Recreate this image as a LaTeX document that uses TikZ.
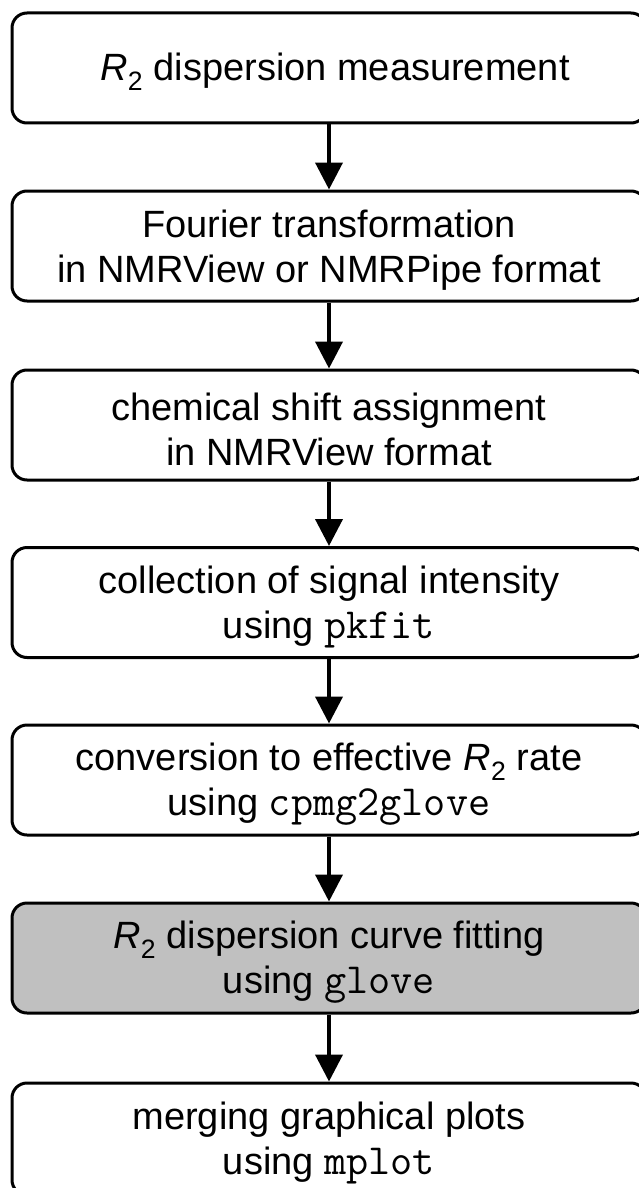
\documentclass[tikz,border=0pt]{standalone}
\usepackage{fontspec}
\setmainfont{Liberation Sans}
\usetikzlibrary{arrows.meta}
\definecolor{boxgray}{RGB}{192,192,192}
\newcommand\Rtwo{\textit{R}\textsubscript{2}}
\newcommand\code[1]{{\fontsize{43}{45}\selectfont\ttfamily #1}}
\begin{document}
\begin{tikzpicture}[x=1pt,y=-1pt,
  box/.style={draw, line width=3pt, rounded corners=15pt, minimum width=634pt,
    minimum height=110pt, inner sep=0pt},
  txt/.style={align=center, inner sep=0pt, font=\fontsize{38}{45}\selectfont},
  flow/.style={line width=4pt, -{Triangle[width=27pt,length=27pt]}}]
\useasboundingbox (0,0) rectangle (639,1188);
\clip (0,0) rectangle (639,1188);
\node[box] (b1) at (329,68) {};
\node[box] (b2) at (329,246) {};
\node[box] (b3) at (329,425) {};
\node[box] (b4) at (329,602.5) {};
\node[box] (b5) at (329,780) {};
\node[box, fill=boxgray] (b6) at (329,958) {};
\node[box, minimum height=112pt] (b7) at (329,1139) {};
\node[txt] (t1) at ([xshift=6pt,yshift=-4pt]b1.center) {\Rtwo{} dispersion measurement};
\node[txt] (t2) at ([yshift=-4pt]b2.center) {Fourier transformation\\in NMRView or NMRPipe format};
\node[txt] (t3) at ([yshift=-4pt]b3.center) {chemical shift assignment\\in NMRView format};
\node[txt] (t4) at ([yshift=-4pt]b4.center) {collection of signal intensity\\using \code{pkfit}};
\node[txt] (t5) at ([yshift=-4pt]b5.center) {conversion to effective \Rtwo{} rate\\using \code{cpmg2glove}};
\node[txt] (t6) at ([yshift=-4pt]b6.center) {\Rtwo{} dispersion curve fitting\\using \code{glove}};
\node[txt] (t7) at ([yshift=-4pt]b7.center) {merging graphical plots\\using \code{mplot}};
\draw[flow] (b1) -- (b2);
\draw[flow] (b2) -- (b3);
\draw[flow] (b3) -- (b4);
\draw[flow] (b4) -- (b5);
\draw[flow] (b5) -- (b6);
\draw[flow] (b6) -- (b7);
\end{tikzpicture}
\end{document}
